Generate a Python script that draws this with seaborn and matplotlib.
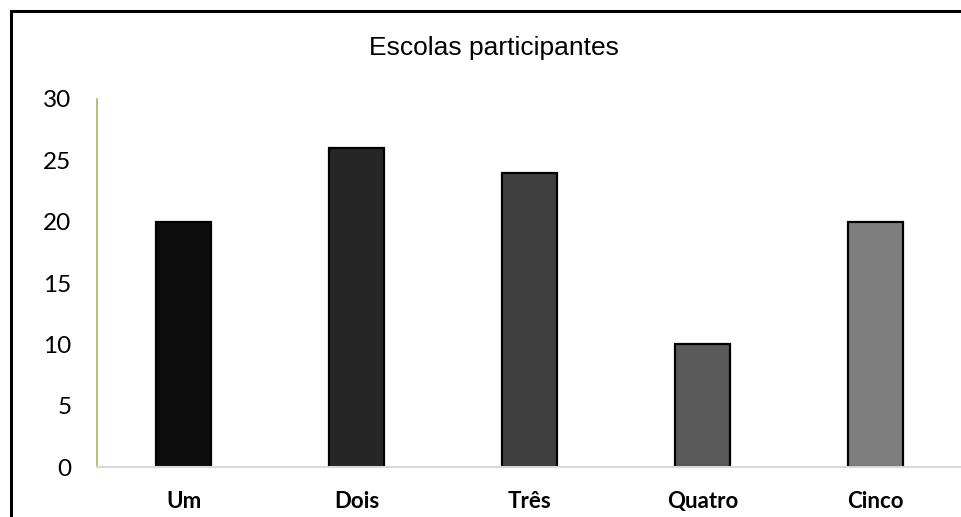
import matplotlib
matplotlib.use("Agg")
import matplotlib.pyplot as plt
import matplotlib.patches as mpatches
import seaborn as sns
import pandas as pd

categories = ["Um", "Dois", "Três", "Quatro", "Cinco"]
values = [20, 26, 24, 10, 20]
bar_colors = ["#0d0d0d", "#262626", "#404040", "#595959", "#7f7f7f"]
y_ticks = [0, 5, 10, 15, 20, 25, 30]
title = "Escolas participantes"

sns.set_theme(style="white")
plt.rcParams["font.family"] = ["Lato", "DejaVu Sans"]

W, H = 962, 517
fig = plt.figure(figsize=(W / 100, H / 100), dpi=100)
ax = fig.add_axes([97 / W, (H - 467) / H, (W - 97) / W, (467 - 99) / H])

df = pd.DataFrame({"cat": categories, "val": values})
sns.barplot(data=df, x="cat", y="val", hue="cat", palette=bar_colors,
            legend=False, width=0.32, edgecolor="black", linewidth=1.6,
            saturation=1, ax=ax)

ax.set_xlim(-0.5, 4.5)
ax.set_ylim(0, 30)
ax.set_yticks(y_ticks)
ax.set_yticklabels([str(t) for t in y_ticks], fontsize=17.5, color="black")
ax.tick_params(axis="y", length=0, pad=18.5)
ax.tick_params(axis="x", length=0, pad=17)
for lbl in ax.get_xticklabels():
    lbl.set_fontweight("bold")
    lbl.set_fontsize(16)
    lbl.set_color("black")
ax.set_xlabel("")
ax.set_ylabel("")

for s in ["top", "right"]:
    ax.spines[s].set_visible(False)
ax.spines["left"].set_color("#9bbb59")
ax.spines["left"].set_linewidth(1.2)
ax.spines["bottom"].set_color("#d9d9d9")
ax.spines["bottom"].set_linewidth(1.5)

fig.text(493.5 / W, 1 - 48 / H, title, ha="center", va="center",
         fontsize=19, family=["Liberation Sans", "DejaVu Sans"], color="black")

border = mpatches.Rectangle((11 / W, -0.1), 1.2, (H - 11) / H + 0.1,
                            transform=fig.transFigure, fill=False,
                            edgecolor="black", linewidth=2.2)
fig.patches.append(border)

fig.savefig("out.png", dpi=100)
